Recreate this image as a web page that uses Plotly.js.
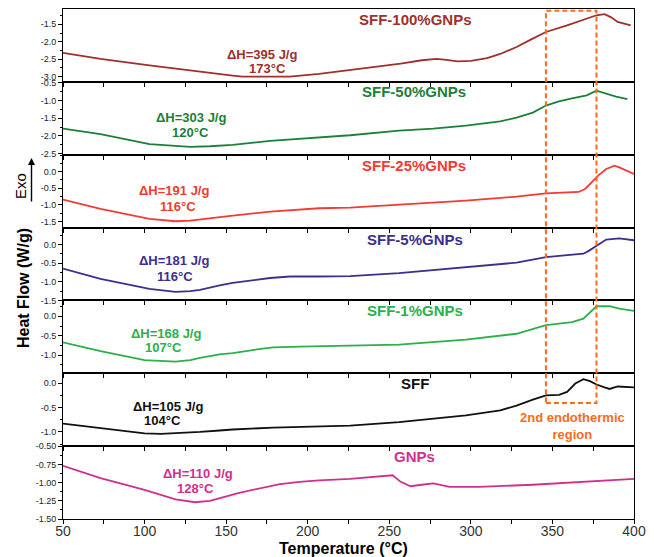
<!DOCTYPE html>
<html>
<head>
<meta charset="utf-8">
<script src="https://cdn.plot.ly/plotly-3.0.1.min.js"></script>
<style>html,body{margin:0;padding:0;background:#fff;}#chart{width:654px;height:557px;}</style>
</head>
<body>
<div id="chart"></div>
<script>
// ---- Data ----
const seriesNames = ["SFF-100%GNPs", "SFF-50%GNPs", "SFF-25%GNPs", "SFF-5%GNPs", "SFF-1%GNPs", "SFF", "GNPs"];

const t100 = [50, 73, 103, 128, 134, 154, 160, 189, 207, 226, 245, 257, 270, 279, 285, 292, 300, 310, 318, 328, 337, 346, 359, 371, 377, 382, 386, 390, 394, 398];
const v100 = [-2.32, -2.49, -2.68, -2.83, -2.86, -2.97, -3.0, -3.0, -2.92, -2.81, -2.70, -2.63, -2.53, -2.49, -2.52, -2.56, -2.55, -2.47, -2.35, -2.15, -1.93, -1.72, -1.53, -1.34, -1.24, -1.21, -1.30, -1.43, -1.49, -1.53];

const t50 = [50, 73, 103, 118, 128, 140, 154, 177, 195, 207, 226, 256, 277, 297, 318, 328, 338, 346, 354, 362, 371, 377, 382, 389, 396];
const v50 = [-1.79, -1.95, -2.23, -2.29, -2.31, -2.29, -2.25, -2.14, -2.08, -2.04, -1.98, -1.85, -1.79, -1.71, -1.59, -1.48, -1.34, -1.14, -1.02, -0.94, -0.85, -0.72, -0.79, -0.89, -0.96];

const t25 = [50, 73, 103, 119, 128, 134, 146, 154, 177, 195, 207, 226, 256, 297, 328, 346, 366, 370, 374, 378, 383, 388, 391, 396, 400];
const v25 = [-0.84, -1.12, -1.42, -1.49, -1.47, -1.44, -1.37, -1.32, -1.20, -1.13, -1.10, -1.08, -0.99, -0.87, -0.75, -0.65, -0.61, -0.52, -0.32, -0.12, 0.08, 0.18, 0.13, 0.01, -0.07];

const t5 = [50, 73, 103, 119, 128, 134, 146, 154, 177, 189, 207, 226, 256, 297, 328, 346, 359, 369, 372, 377, 383, 391, 400];
const v5 = [-0.65, -0.92, -1.19, -1.27, -1.25, -1.22, -1.10, -1.03, -0.90, -0.86, -0.86, -0.85, -0.77, -0.62, -0.49, -0.34, -0.28, -0.25, -0.18, -0.03, 0.13, 0.16, 0.11];

const t1 = [50, 73, 100, 110, 119, 128, 134, 146, 154, 171, 179, 195, 214, 256, 297, 328, 346, 362, 369, 373, 377, 385, 391, 400];
const v1 = [-0.67, -0.90, -1.13, -1.16, -1.17, -1.13, -1.07, -0.98, -0.95, -0.84, -0.80, -0.78, -0.77, -0.73, -0.60, -0.45, -0.23, -0.15, -0.06, 0.11, 0.26, 0.26, 0.20, 0.14];

const tSFF = [50, 73, 100, 110, 119, 128, 134, 146, 154, 179, 207, 226, 256, 297, 318, 328, 338, 346, 354, 359, 364, 369, 373, 377, 382, 385, 390, 400];
const vSFF = [-0.83, -0.92, -1.03, -1.04, -1.03, -1.02, -1.00, -0.97, -0.95, -0.91, -0.88, -0.87, -0.80, -0.66, -0.56, -0.46, -0.34, -0.25, -0.24, -0.18, -0.01, 0.08, 0.04, -0.03, -0.09, -0.12, -0.07, -0.09];

const tG = [50, 73, 100, 119, 131, 140, 158, 183, 195, 207, 226, 248, 252, 257, 263, 270, 277, 287, 305, 338, 359, 379, 400];
const vG = [-0.77, -0.94, -1.10, -1.23, -1.27, -1.25, -1.14, -1.02, -0.99, -0.97, -0.95, -0.90, -0.90, -0.99, -1.05, -1.03, -1.01, -1.06, -1.06, -1.03, -1.00, -0.97, -0.95];

const dHLabels = ["\u0394H=395 J/g", "\u0394H=303 J/g", "\u0394H=191 J/g", "\u0394H=181 J/g", "\u0394H=168 J/g", "\u0394H=105 J/g", "\u0394H=110 J/g"];
const peakLabels = ["173\u00b0C", "120\u00b0C", "116\u00b0C", "116\u00b0C", "107\u00b0C", "104\u00b0C", "128\u00b0C"];

const yTicks = [
  [-3.0, -2.5, -2.0, -1.5],
  [-2.5, -2.0, -1.5, -1.0, -0.5],
  [-1.5, -1.0, -0.5, 0.0],
  [-1.5, -1.0, -0.5, 0.0],
  [-1.0, -0.5, 0.0],
  [-1.0, -0.5, 0.0],
  [-1.5, -1.25, -1.0, -0.75, -0.5]
];
const xTickVals = [50, 100, 150, 200, 250, 300, 350, 400];
const xLabel = "Temperature (\u00b0C)";
const yLabel = "Heat Flow (W/g)";
const regionLabel = "2nd endothermic<br>region";
const regionX = [346, 377];

// ---- Styles / geometry ----
const colors = ["#a0302c", "#1d8038", "#f23b33", "#3c2f8e", "#2cb04a", "#111111", "#d0308c"];
const yRanges = [[-3.15, -1.06], [-2.53, -0.47], [-1.68, 0.51], [-1.5, 0.45], [-1.47, 0.41], [-1.29, 0.2], [-1.5, -0.5]];
const tickDec = [1, 1, 1, 1, 1, 1, 2];
const FONT = "Arial, 'Liberation Sans', sans-serif";
const W = 654, H = 557, ML = 63, MR = 20, MT = 9, MB = 38;
const PW = W - ML - MR, PH = H - MT - MB;
const px2x = p => (p - ML) / PW;
const px2y = p => (MT + PH - p) / PH;

const T = [t100, t50, t25, t5, t1, tSFF, tG];
const V = [v100, v50, v25, v5, v1, vSFF, vG];

const traces = [];
const layout = {
  width: W, height: H,
  margin: {l: ML, r: MR, t: MT, b: MB},
  paper_bgcolor: "#fff", plot_bgcolor: "#fff",
  showlegend: false,
  font: {family: FONT, color: "#222"},
  annotations: [], shapes: []
};

for (let i = 0; i < 7; i++) {
  const k = i + 1;
  const xs = k === 1 ? "x" : "x" + k;
  const ys = k === 1 ? "y" : "y" + k;
  traces.push({
    x: T[i], y: V[i], type: "scatter", mode: "lines",
    xaxis: xs, yaxis: ys, name: seriesNames[i],
    line: {color: colors[i], width: 1.8}, hoverinfo: "skip"
  });
  const d0 = (6 - i) / 7, d1 = (7 - i) / 7;
  layout["xaxis" + (k === 1 ? "" : k)] = {
    domain: [0, 1], anchor: ys, range: [50, 400],
    showline: true, mirror: true, linecolor: "#000", linewidth: 1,
    ticks: "outside", ticklen: 4, tickcolor: "#000",
    tickmode: "array", tickvals: xTickVals,
    ticktext: xTickVals.map(String),
    minor: {tickmode: "linear", tick0: 25, dtick: 50, ticks: "outside", ticklen: 4, tickcolor: "#000"},
    showticklabels: k === 7,
    ticklabelstandoff: -5,
    tickfont: {size: 14, color: "#333", family: FONT},
    showgrid: false, zeroline: false, fixedrange: true
  };
  const step = tickDec[i] === 2 ? 0.125 : 0.25;
  const minorVals = [];
  for (let m = -4; m <= 1; m += step) {
    if (m > yRanges[i][0] && m < yRanges[i][1]) minorVals.push(+m.toFixed(3));
  }
  layout["yaxis" + (k === 1 ? "" : k)] = {
    domain: [d0, d1], anchor: xs, range: yRanges[i],
    showline: true, mirror: true, linecolor: "#000", linewidth: 1,
    ticks: "outside", ticklen: 4, tickcolor: "#000",
    tickmode: "array", tickvals: yTicks[i],
    ticktext: yTicks[i].map(v => v.toFixed(tickDec[i])),
    minor: {tickmode: "array", tickvals: minorVals, ticks: "outside", ticklen: 2, tickcolor: "#000"},
    tickfont: {size: 9, color: "#222", family: FONT},
    showgrid: false, zeroline: false, fixedrange: true
  };
}

// series name labels
const nameY = [19, 92, 165, 239.3, 310.7, 383.3, 456];
const nameX = [415, 414, 414, 415, 415, 415, 414];
for (let i = 0; i < 7; i++) {
  layout.annotations.push({
    xref: "paper", yref: "paper", x: px2x(nameX[i]), y: px2y(nameY[i]),
    xanchor: "center", yanchor: "middle", showarrow: false,
    text: "<b>" + seriesNames[i] + "</b>",
    font: {family: FONT, size: 15, color: colors[i]}
  });
}
// enthalpy / peak labels
const dhX = [262, 191, 174, 173.5, 166, 168, 198];
const dhY = [54, 117, 190.7, 260, 333, 406, 473];
const pkX = [267, 190, 178, 175, 163, 162.5, 195];
const pkY = [68.5, 132, 206.7, 276, 347, 420, 488];
for (let i = 0; i < 7; i++) {
  layout.annotations.push({
    xref: "paper", yref: "paper", x: px2x(dhX[i]), y: px2y(dhY[i]),
    xanchor: "center", yanchor: "middle", showarrow: false,
    text: "<b>" + dHLabels[i] + "</b>", font: {family: FONT, size: 13, color: colors[i]}
  });
  layout.annotations.push({
    xref: "paper", yref: "paper", x: px2x(pkX[i]), y: px2y(pkY[i]),
    xanchor: "center", yanchor: "middle", showarrow: false,
    text: "<b>" + peakLabels[i] + "</b>", font: {family: FONT, size: 13, color: colors[i]}
  });
}
// region label
layout.annotations.push({
  xref: "paper", yref: "paper", x: px2x(572), y: px2y(425.8),
  xanchor: "center", yanchor: "middle", showarrow: false,
  text: "<b>" + regionLabel + "</b>", font: {family: FONT, size: 13, color: "#ff6a1a"}
});
// axis titles
layout.annotations.push({
  xref: "paper", yref: "paper", x: px2x(343), y: px2y(548),
  xanchor: "center", yanchor: "middle", showarrow: false,
  text: "<b>" + xLabel + "</b>", font: {family: FONT, size: 16, color: "#000"}
});
layout.annotations.push({
  xref: "paper", yref: "paper", x: px2x(23), y: px2y(288),
  xanchor: "center", yanchor: "middle", showarrow: false, textangle: -90,
  text: "<b>" + yLabel + "</b>", font: {family: FONT, size: 16, color: "#000"}
});
// Exo label and arrow
layout.annotations.push({
  xref: "paper", yref: "paper", x: px2x(20), y: px2y(186),
  xanchor: "center", yanchor: "middle", showarrow: false, textangle: -90,
  text: "Exo", font: {family: FONT, size: 15, color: "#000"}
});
layout.annotations.push({
  xref: "paper", yref: "paper", x: px2x(31.5), y: px2y(158),
  showarrow: true, text: "", ax: 0, ay: 45,
  arrowhead: 2, arrowsize: 1, arrowwidth: 1.4, arrowcolor: "#000"
});
// dashed region rectangle
layout.shapes.push({
  type: "rect", xref: "x", yref: "paper",
  x0: regionX[0], x1: regionX[1], y0: px2y(403), y1: px2y(10.7),
  line: {color: "#ff6a1a", width: 2, dash: "5px,3px"}, fillcolor: "rgba(0,0,0,0)"
});

Plotly.newPlot("chart", traces, layout, {staticPlot: true, displayModeBar: false});
</script>
</body>
</html>
